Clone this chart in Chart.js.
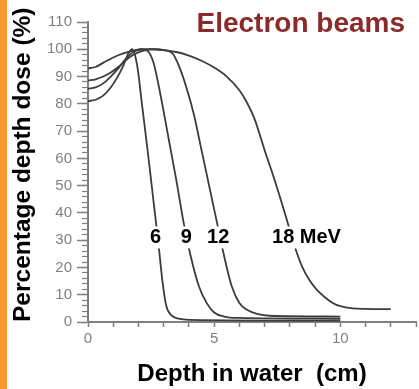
<!DOCTYPE html>
<html>
<head>
<meta charset="utf-8">
<script src="https://cdn.jsdelivr.net/npm/chart.js@4.4.1/dist/chart.umd.min.js"></script>
<style>
  body { margin: 0; background: #fff; }
  #franja { position: absolute; left: 0; top: 0; width: 7px; height: 389px; background: #F89A32; }
  #caja { position: absolute; left: 7px; top: 0; width: 412px; height: 389px; }
</style>
</head>
<body>
<div id="franja"></div>
<div id="caja"><canvas id="grafico"></canvas></div>
<script>
// datos (profundidad en cm, dosis en %)
const depth6 = [0, 0.3, 0.6, 0.9, 1.15, 1.4, 1.6, 1.75, 1.95, 2.15, 2.4, 2.6, 2.8, 2.95, 3.1, 3.3, 3.6, 4.0, 10];
const dose6  = [81, 81.5, 83, 86, 89.5, 94, 98.5, 100, 94, 79, 60, 44, 28, 15, 6, 2.5, 1.2, 0.8, 0.5];

const depth9 = [0, 0.3, 0.6, 0.9, 1.2, 1.5, 1.8, 2.1, 2.35, 2.6, 2.9, 3.2, 3.5, 3.8, 4.1, 4.4, 4.7, 5.0, 5.4, 6.0, 10];
const dose9  = [85.5, 86, 87.5, 90, 93, 96.5, 99, 100, 99.5, 95, 82, 67, 52, 36, 23, 13, 7, 3.5, 2, 1.5, 1.2];

const depth12 = [0, 0.3, 0.6, 0.9, 1.2, 1.5, 1.8, 2.2, 2.6, 3.0, 3.35, 3.6, 3.9, 4.2, 4.5, 4.8, 5.1, 5.4, 5.7, 6.0, 6.3, 6.7, 7.2, 10];
const dose12  = [88.5, 89, 90, 91.5, 93.5, 96, 98, 99.5, 100, 99.7, 98.5, 94, 86, 76, 63, 50, 37, 24, 13, 7, 4.5, 3, 2.3, 2];

const depth18 = [0, 0.3, 0.6, 1.0, 1.4, 1.8, 2.2, 2.6, 3.0, 3.5, 4.0, 4.5, 5.0, 5.5, 6.0, 6.3, 6.6, 7.0, 7.4, 7.8, 8.2, 8.5, 8.8, 9.1, 9.4, 9.7, 10.0, 10.5, 11, 12];
const dose18  = [93, 93.5, 95, 97, 98.5, 99.5, 100, 100, 99.7, 99, 97.7, 95.8, 93.3, 90, 85, 80.5, 74.5, 63, 52, 40, 27.5, 20, 15, 11.5, 9, 7, 5.8, 5, 4.8, 4.7];

const energias = ["6", "9", "12", "18 MeV"];
// donde va cada etiqueta (en unidades de los ejes)
const etiquetaX = [2.68, 3.9, 5.16, 8.66];
const etiquetaY = [31, 31, 31, 31];

const xTickLabels = [0, 5, 10];

const fuente = "'Liberation Sans', Arial, sans-serif";
const gris = "#808080";

function puntos(xs, ys) {
    const arr = [];
    for (let i = 0; i < xs.length; i++) {
        arr.push({x: xs[i], y: ys[i]});
    }
    return arr;
}

function serie(xs, ys) {
    return {
        data: puntos(xs, ys),
        borderColor: "#3c3c3c",
        borderWidth: 1.8,
        pointRadius: 0,
        fill: false,
        cubicInterpolationMode: "monotone",
        yAxisID: "y"
    };
}

// textos encima del grafico: titulo y energias
const textos = {
    id: "textos",
    afterDatasetsDraw(chart) {
        const ctx = chart.ctx;
        const sx = chart.scales.x;
        const sy = chart.scales.y;
        ctx.save();
        ctx.font = "bold 20px " + fuente;
        ctx.textAlign = "center";
        ctx.textBaseline = "middle";
        for (let i = 0; i < energias.length; i++) {
            const px = sx.getPixelForValue(etiquetaX[i]);
            const py = sy.getPixelForValue(etiquetaY[i]);
            const w = ctx.measureText(energias[i]).width;
            ctx.fillStyle = "#fff";
            ctx.fillRect(px - w / 2 - 2, py - 11, w + 4, 22);
            ctx.fillStyle = "#000";
            ctx.fillText(energias[i], px, py);
        }
        ctx.font = "bold 28px " + fuente;
        ctx.textAlign = "right";
        ctx.textBaseline = "alphabetic";
        ctx.fillStyle = "#8C2A2A";
        ctx.fillText("Electron beams", 398, 32);
        ctx.restore();
    }
};

const canva = document.getElementById("grafico").getContext("2d");
const grafico = new Chart(canva, {
    type: "line",
    data: {
        datasets: [
            serie(depth6, dose6),
            serie(depth9, dose9),
            serie(depth12, dose12),
            serie(depth18, dose18)
        ]
    },
    options: {
        responsive: true,
        maintainAspectRatio: false,
        animation: false,
        layout: { padding: { top: 22, right: 1, left: 0, bottom: 0 } },
        plugins: {
            legend: { display: false },
            tooltip: { enabled: false }
        },
        scales: {
            x: {
                type: "linear",
                min: 0,
                max: 13,
                afterFit: (scale) => { scale.height = 67; },
                border: { color: gris, width: 2 },
                grid: { drawOnChartArea: false, tickLength: 5, tickColor: gris, tickWidth: 1.5 },
                ticks: {
                    stepSize: 1,
                    autoSkip: false,
                    maxRotation: 0,
                    padding: 3,
                    color: gris,
                    font: { family: fuente, size: 15 },
                    callback: (v) => xTickLabels.includes(v) ? v : ""
                },
                title: {
                    display: true,
                    text: "Depth in water  (cm)",
                    color: "#000",
                    padding: 0,
                    font: { family: fuente, size: 24, weight: "bold" }
                }
            },
            y: {
                min: 0,
                max: 110,
                weight: 1,
                afterFit: (scale) => { scale.width = 81; },
                border: { color: gris, width: 2 },
                grid: { drawOnChartArea: false, tickLength: 11, tickColor: gris, tickWidth: 1.5 },
                ticks: {
                    stepSize: 10,
                    padding: 5,
                    color: gris,
                    font: { family: fuente, size: 15 }
                },
                title: {
                    display: true,
                    text: "Percentage depth dose (%)",
                    align: "start",
                    color: "#000",
                    padding: { top: 2, bottom: 0 },
                    font: { family: fuente, size: 24.5, weight: "bold" }
                }
            },
            // marcas pequeñas de la regla del eje y
            y2: {
                position: "left",
                min: 0,
                max: 110,
                weight: 0,
                afterFit: (scale) => { scale.width = 0; },
                border: { color: gris, width: 2 },
                grid: { drawOnChartArea: false, tickLength: 6, tickColor: gris, tickWidth: 1.2 },
                ticks: { stepSize: 2, display: false }
            }
        }
    },
    plugins: [textos]
});
</script>
</body>
</html>
